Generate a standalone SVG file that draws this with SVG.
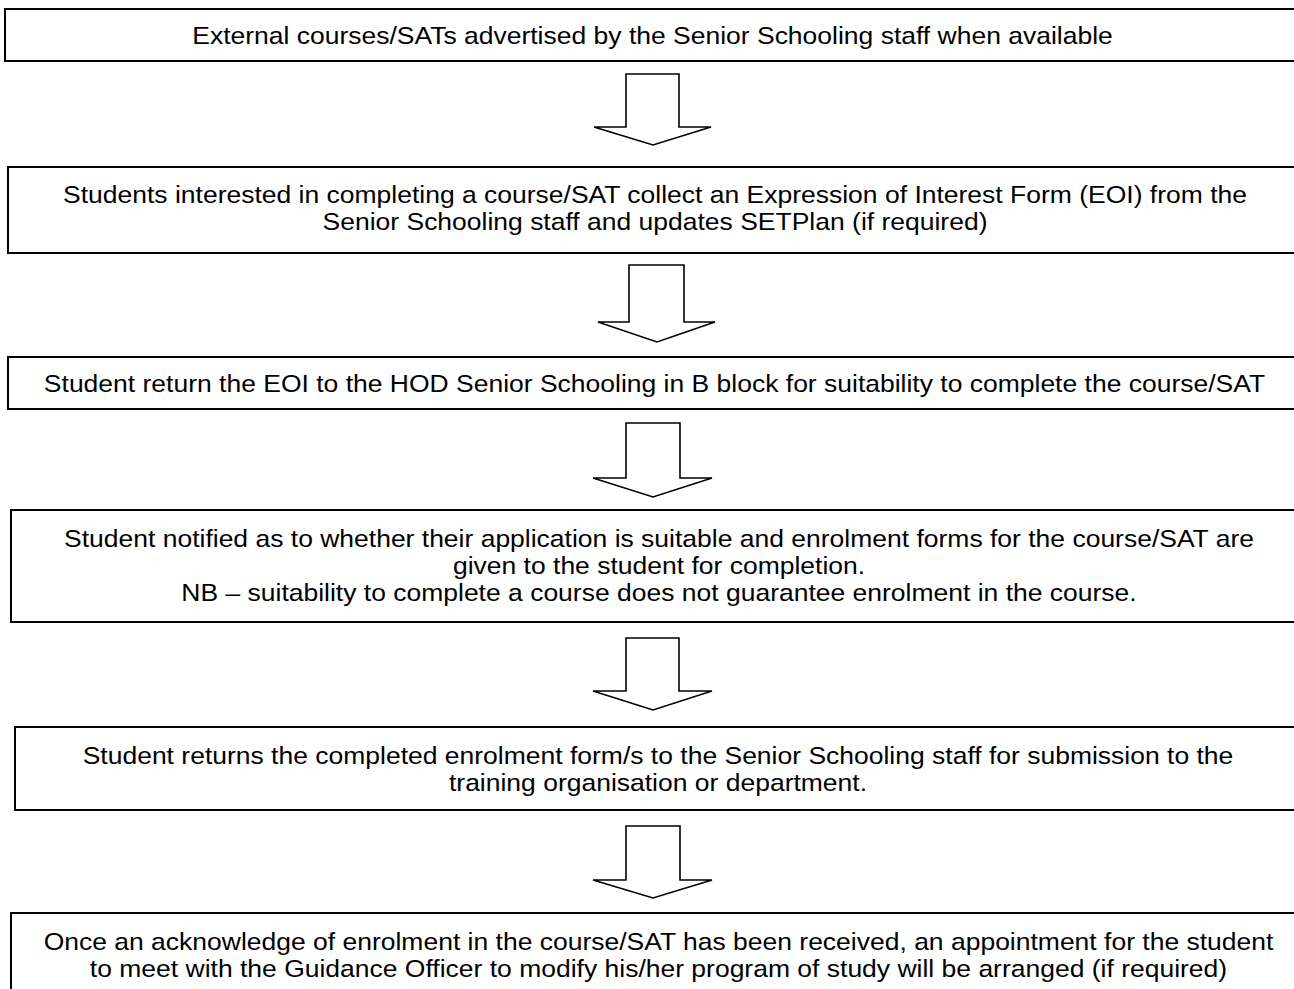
<svg xmlns="http://www.w3.org/2000/svg" width="1294" height="989" viewBox="0 0 1294 989">
<style>
.box{fill:#fff;stroke:#000;stroke-width:2}
.t{font-family:"Liberation Sans",Arial,sans-serif;font-size:24px;fill:#000;text-anchor:middle}
.arr{fill:#fff;stroke:#000;stroke-width:1.6;stroke-linejoin:miter}
</style>
<rect width="1294" height="989" fill="#fff"/>
<g id="n1"><rect class="box" x="5" y="9" width="1300" height="52"/>
<text class="t" transform="translate(652.5,43.5) scale(1.104,1)">External courses/SATs advertised by the Senior Schooling staff when available</text></g>
<g id="n2"><rect class="box" x="8" y="167" width="1300" height="86"/>
<text class="t" transform="translate(655,203) scale(1.104,1)">Students interested in completing a course/SAT collect an Expression of Interest Form (EOI) from the</text>
<text class="t" transform="translate(655,230) scale(1.104,1)">Senior Schooling staff and updates SETPlan (if required)</text></g>
<g id="n3"><rect class="box" x="8" y="357" width="1300" height="52"/>
<text class="t" transform="translate(654.5,392) scale(1.104,1)">Student return the EOI to the HOD Senior Schooling in B block for suitability to complete the course/SAT</text></g>
<g id="n4"><rect class="box" x="11" y="510" width="1300" height="112"/>
<text class="t" transform="translate(659,546.5) scale(1.104,1)">Student notified as to whether their application is suitable and enrolment forms for the course/SAT are</text>
<text class="t" transform="translate(659,573.5) scale(1.104,1)">given to the student for completion.</text>
<text class="t" transform="translate(659,600.5) scale(1.104,1)">NB – suitability to complete a course does not guarantee enrolment in the course.</text></g>
<g id="n5"><rect class="box" x="15" y="727" width="1300" height="83"/>
<text class="t" transform="translate(658,763.5) scale(1.104,1)">Student returns the completed enrolment form/s to the Senior Schooling staff for submission to the</text>
<text class="t" transform="translate(658,790.5) scale(1.104,1)">training organisation or department.</text></g>
<g id="n6"><rect class="box" x="11" y="913" width="1300" height="90"/>
<text class="t" transform="translate(658.5,949.5) scale(1.104,1)">Once an acknowledge of enrolment in the course/SAT has been received, an appointment for the student</text>
<text class="t" transform="translate(658.5,976.5) scale(1.104,1)">to meet with the Guidance Officer to modify his/her program of study will be arranged (if required)</text></g>
<g id="connectors">
<polygon class="arr" points="626,74 679,74 679,127 711,127 653,145 594,127 626,127"/>
<polygon class="arr" points="629,265 684,265 684,322 715,322 657,342 598,322 629,322"/>
<polygon class="arr" points="626,423 680,423 680,478 712,478 653,497 593,478 626,478"/>
<polygon class="arr" points="626,638 679,638 679,691 712,691 653,710 593,691 626,691"/>
<polygon class="arr" points="626,826 680,826 680,880 712,880 653,898 593,880 626,880"/>
</g>
</svg>
